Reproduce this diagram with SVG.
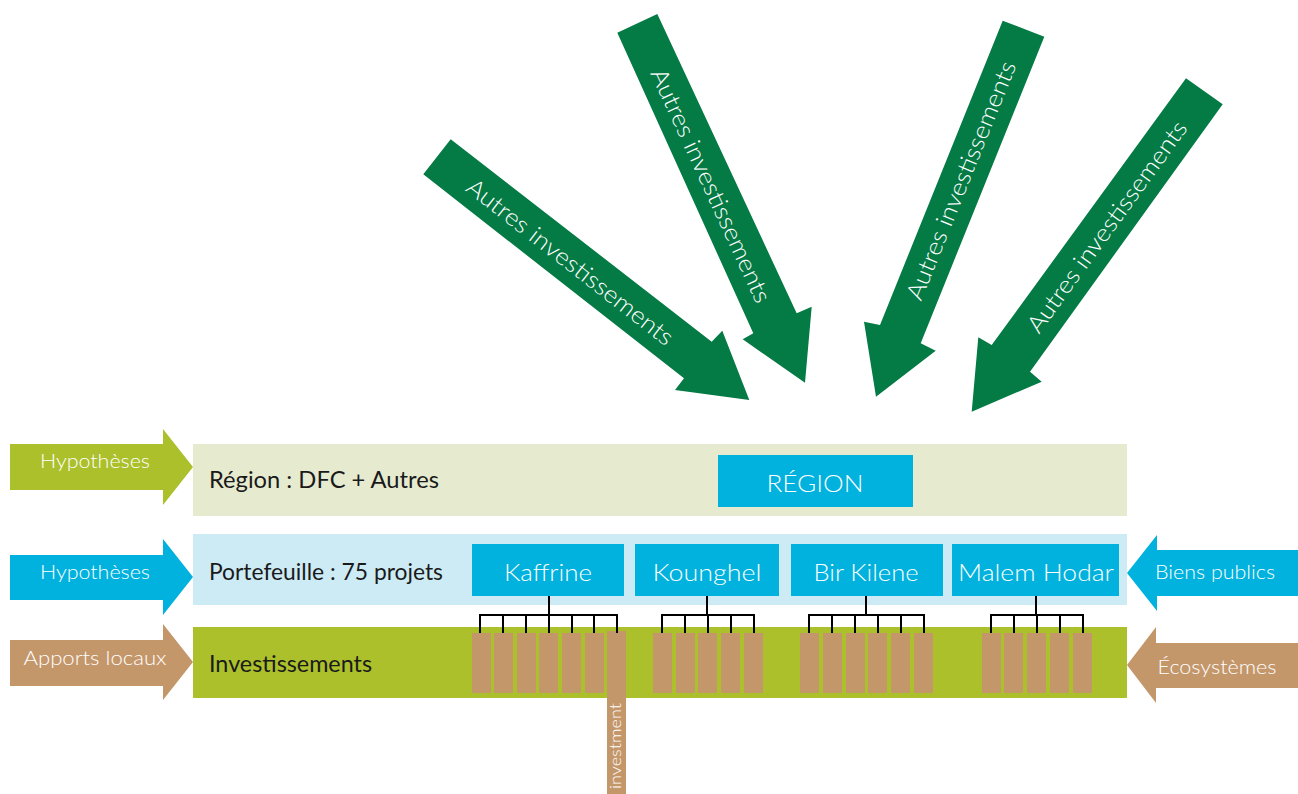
<svg xmlns="http://www.w3.org/2000/svg" width="1298" height="794" viewBox="0 0 1298 794">
<style>
text{font-family:Lato,"Open Sans","DejaVu Sans",sans-serif}
.w{fill:#ffffff;font-weight:300}
.d{fill:#1a1a1a;font-size:22.5px}
.lab{font-size:20px;text-anchor:middle}
.box{font-size:24px;text-anchor:middle}
.big{font-size:24px;text-anchor:middle;dominant-baseline:central}
.gr{fill:#047a44}
.cy{fill:#00b2dd}
.br{fill:#c4976b}
.ol{fill:#abc02b}
.ln{stroke:#000;stroke-width:2;fill:none}
</style>
<rect width="1298" height="794" fill="#ffffff"/>
<g id="green-arrows">
<g id="arrow1"><polygon class="gr" points="450.7,139.3 711.7,341.7 722.3,330.7 749.3,400 675,390 684,378.3 423.3,174.3"/><text class="w big" transform="translate(571,261) rotate(37.9)" textLength="255" lengthAdjust="spacingAndGlyphs">Autres investissements</text></g>
<g id="arrow2"><polygon class="gr" points="657.3,14 796.7,313.3 811.7,306.7 805,382.7 742.7,339.3 753.3,333.3 617.3,32.7"/><text class="w big" transform="translate(712,185) rotate(65.3)" textLength="255" lengthAdjust="spacingAndGlyphs">Autres investissements</text></g>
<g id="arrow3"><polygon class="gr" points="1044.3,36.7 920.7,343.3 935.7,350.7 876,396.7 864,321.7 880,325 1002.7,20.7"/><text class="w big" transform="translate(960,180) rotate(-68)" textLength="255" lengthAdjust="spacingAndGlyphs">Autres investissements</text></g>
<g id="arrow4"><polygon class="gr" points="1222.7,104.3 1030,371.7 1041.7,381.7 971.7,411.7 978.3,337.3 991.7,345 1186,78.3"/><text class="w big" transform="translate(1106,226) rotate(-54.1)" textLength="255" lengthAdjust="spacingAndGlyphs">Autres investissements</text></g>
</g>
<g id="band-region"><rect x="193" y="444" width="934" height="72" fill="#e6ebd0"/><text class="d" x="209" y="488" textLength="230" lengthAdjust="spacingAndGlyphs">Région : DFC + Autres</text></g>
<g id="band-portefeuille"><rect x="193" y="534" width="934" height="71" fill="#cdebf5"/><text class="d" x="209" y="580" textLength="234" lengthAdjust="spacingAndGlyphs">Portefeuille : 75 projets</text></g>
<g id="band-invest"><rect x="193" y="627" width="934" height="71" class="ol"/><text class="d" x="209" y="672" textLength="163" lengthAdjust="spacingAndGlyphs">Investissements</text></g>
<g id="in-hyp1"><polygon class="ol" points="10,444 163,444 163,429 193,467 163,505 163,490 10,490"/><text class="w lab" x="95" y="468" textLength="110" lengthAdjust="spacingAndGlyphs">Hypothèses</text></g>
<g id="in-hyp2"><polygon class="cy" points="10,555 163,555 163,539 193,577 163,615 163,600 10,600"/><text class="w lab" x="95" y="579" textLength="110" lengthAdjust="spacingAndGlyphs">Hypothèses</text></g>
<g id="in-apports"><polygon class="br" points="10,640 163,640 163,624 193,662 163,700 163,686 10,686"/><text class="w lab" x="95" y="665" textLength="143" lengthAdjust="spacingAndGlyphs">Apports locaux</text></g>
<g id="in-biens"><polygon class="cy" points="1298,550 1157,550 1157,535 1127,573 1157,611 1157,596 1298,596"/><text class="w lab" x="1215" y="579" textLength="120" lengthAdjust="spacingAndGlyphs">Biens publics</text></g>
<g id="in-eco"><polygon class="br" points="1298,643 1156,643 1156,627 1127,665 1156,703 1156,688 1298,688"/><text class="w lab" x="1217" y="674" textLength="119" lengthAdjust="spacingAndGlyphs">Écosystèmes</text></g>
<g id="region"><rect class="cy" x="718" y="455" width="195" height="52"/><text class="w box" x="815" y="492" textLength="97" lengthAdjust="spacingAndGlyphs">RÉGION</text></g>
<g id="kaffrine"><rect class="cy" x="472" y="544" width="152" height="52"/><text class="w box" x="548" y="581" textLength="88" lengthAdjust="spacingAndGlyphs">Kaffrine</text></g>
<g id="kounghel"><rect class="cy" x="635" y="544" width="144" height="52"/><text class="w box" x="707" y="581" textLength="109" lengthAdjust="spacingAndGlyphs">Kounghel</text></g>
<g id="birkilene"><rect class="cy" x="791" y="544" width="152" height="52"/><text class="w box" x="866" y="581" textLength="105" lengthAdjust="spacingAndGlyphs">Bir Kilene</text></g>
<g id="malemhodar"><rect class="cy" x="952" y="544" width="167" height="52"/><text class="w box" x="1036" y="581" textLength="156" lengthAdjust="spacingAndGlyphs">Malem Hodar</text></g>
<g id="investments" class="br">
<rect x="472" y="633" width="19" height="60"/><rect x="494" y="633" width="19" height="60"/><rect x="517" y="633" width="19" height="60"/><rect x="539" y="633" width="19" height="60"/><rect x="562" y="633" width="19" height="60"/><rect x="585" y="633" width="19" height="60"/>
<rect x="653" y="633" width="19" height="60"/><rect x="676" y="633" width="19" height="60"/><rect x="698" y="633" width="19" height="60"/><rect x="721" y="633" width="19" height="60"/><rect x="744" y="633" width="19" height="60"/>
<rect x="800" y="633" width="19" height="60"/><rect x="823" y="633" width="19" height="60"/><rect x="846" y="633" width="19" height="60"/><rect x="868" y="633" width="19" height="60"/><rect x="891" y="633" width="19" height="60"/><rect x="914" y="633" width="19" height="60"/>
<rect x="982" y="633" width="19" height="60"/><rect x="1004" y="633" width="19" height="60"/><rect x="1027" y="633" width="19" height="60"/><rect x="1050" y="633" width="19" height="60"/><rect x="1073" y="633" width="19" height="60"/>
</g>
<g id="investment-label"><rect class="br" x="607" y="631" width="19" height="163"/><text class="w" font-size="15" text-anchor="middle" transform="translate(621,746) rotate(-90)" textLength="86" lengthAdjust="spacingAndGlyphs">investment</text></g>
<g id="connectors" class="ln">
<path d="M549,596V615M480,633V615H617V633M503,615V633M526,615V633M549,615V633M572,615V633M594,615V633"/>
<path d="M707,596V615M662,633V615H754V633M685,615V633M708,615V633M731,615V633"/>
<path d="M866,596V615M809,633V615H924V633M832,615V633M855,615V633M878,615V633M901,615V633"/>
<path d="M1036,596V615M991,633V615H1083V633M1014,615V633M1037,615V633M1060,615V633"/>
</g>
</svg>
